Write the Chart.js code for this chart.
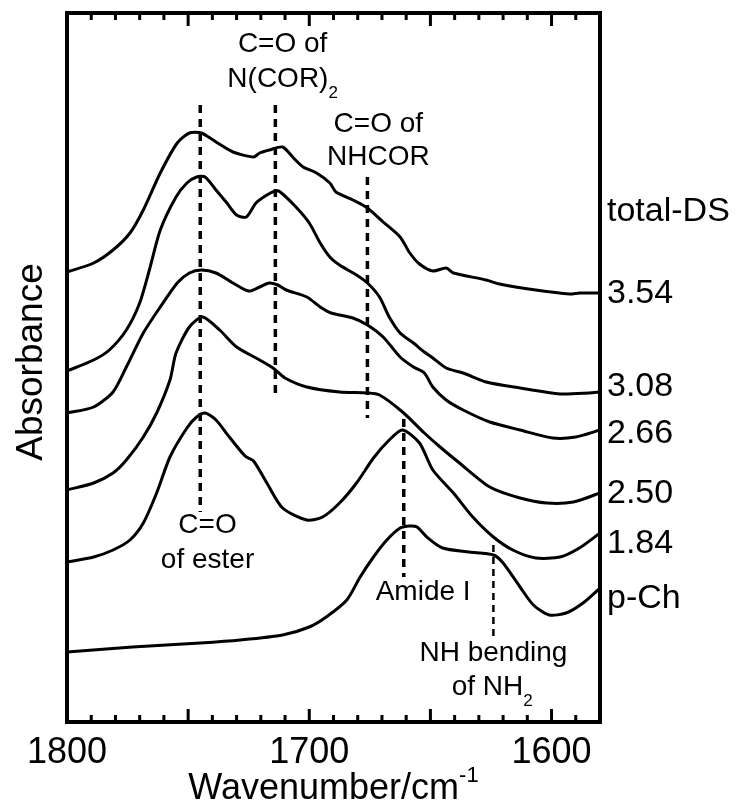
<!DOCTYPE html>
<html>
<head>
<meta charset="utf-8">
<script src="https://cdn.jsdelivr.net/npm/chart.js@4.4.0/dist/chart.umd.min.js"></script>
<style>
  html, body { margin: 0; padding: 0; background: #fff; }
  #wrap { width: 747px; height: 811px; position: relative; }
</style>
</head>
<body>
<div id="wrap"><canvas id="irChart"></canvas></div>
<script>
// FT-IR spectra, wavenumber (cm-1) vs absorbance (a.u., curves offset)
const wn354 = [1800, 1789, 1781, 1774, 1768.5, 1761.5, 1754.5, 1749.5, 1744.5, 1738.5, 1731.5, 1723, 1720.5, 1716.5, 1711, 1706.5, 1702.5, 1697, 1691.5, 1689, 1682, 1676, 1669.5, 1662.5, 1658.5, 1654.5, 1649, 1643.5, 1640.5, 1627, 1621.5, 1606.5, 1592.5, 1588.5, 1580];
const abs354 = [4.50, 4.59, 4.72, 4.89, 5.12, 5.49, 5.79, 5.89, 5.89, 5.80, 5.70, 5.65, 5.69, 5.72, 5.75, 5.64, 5.55, 5.49, 5.39, 5.30, 5.22, 5.14, 5.00, 4.85, 4.69, 4.58, 4.51, 4.54, 4.49, 4.42, 4.38, 4.32, 4.28, 4.29, 4.29];

const wn308 = [1800, 1789, 1782.5, 1775.5, 1770, 1766, 1761.5, 1755, 1750.5, 1746.5, 1743, 1738.5, 1734, 1730, 1726, 1722, 1717.5, 1714, 1712, 1705.5, 1700, 1695.5, 1691.5, 1687.5, 1680.5, 1676, 1671, 1667, 1662.5, 1657, 1652.5, 1649, 1643.5, 1636.5, 1627, 1613, 1596.5, 1584.5, 1580];
const abs308 = [3.51, 3.62, 3.72, 3.92, 4.19, 4.52, 4.92, 5.25, 5.39, 5.45, 5.45, 5.32, 5.19, 5.07, 5.05, 5.19, 5.27, 5.31, 5.30, 5.15, 4.99, 4.79, 4.65, 4.57, 4.47, 4.39, 4.25, 4.05, 3.89, 3.79, 3.70, 3.64, 3.54, 3.49, 3.40, 3.34, 3.28, 3.29, 3.30];

const wn266 = [1800, 1789, 1781, 1775.5, 1768.5, 1761.5, 1754.5, 1749.5, 1744.5, 1738.5, 1731.5, 1725, 1720.5, 1716.5, 1713, 1709.5, 1701, 1695.5, 1691, 1682, 1676, 1669.5, 1662.5, 1657, 1652.5, 1649, 1643.5, 1636.5, 1625.5, 1613, 1599.5, 1590, 1580];
const abs266 = [3.09, 3.15, 3.30, 3.55, 3.89, 4.15, 4.39, 4.49, 4.52, 4.49, 4.39, 4.31, 4.35, 4.39, 4.37, 4.32, 4.25, 4.15, 4.09, 4.04, 3.97, 3.85, 3.65, 3.55, 3.49, 3.35, 3.22, 3.12, 3.00, 2.92, 2.84, 2.85, 2.92];

const wn250 = [1800, 1789, 1781, 1775.5, 1768.5, 1763, 1757.5, 1755, 1749.5, 1744, 1737, 1730, 1720.5, 1715, 1710, 1701, 1687.5, 1676, 1671, 1661.5, 1652.5, 1646, 1638, 1625.5, 1613, 1602, 1591, 1580];
const abs250 = [2.32, 2.39, 2.49, 2.62, 2.85, 3.09, 3.42, 3.69, 3.95, 4.05, 3.92, 3.75, 3.62, 3.54, 3.44, 3.35, 3.30, 3.29, 3.27, 3.10, 2.89, 2.75, 2.59, 2.35, 2.24, 2.19, 2.20, 2.29];

const wn184 = [1800, 1789, 1781, 1774, 1768.5, 1763, 1757.5, 1750.5, 1746.5, 1743, 1738.5, 1733, 1726.5, 1723, 1717.5, 1711, 1701, 1694.5, 1687.5, 1680.5, 1673.5, 1667, 1661.5, 1654.5, 1649, 1640.5, 1632.5, 1624, 1616, 1606.5, 1596.5, 1588.5, 1580];
const abs184 = [1.60, 1.65, 1.72, 1.82, 1.99, 2.29, 2.65, 2.94, 3.05, 3.09, 3.02, 2.85, 2.66, 2.61, 2.39, 2.14, 2.02, 2.05, 2.19, 2.39, 2.64, 2.82, 2.92, 2.79, 2.52, 2.29, 2.05, 1.85, 1.72, 1.64, 1.65, 1.74, 1.89];

const wnPCh = [1800, 1773, 1745, 1728.5, 1711, 1700, 1693, 1684.5, 1679, 1673.5, 1668, 1662.5, 1658.5, 1655.5, 1651.5, 1645, 1634, 1624, 1620, 1613, 1607.5, 1601, 1594, 1587, 1580];
const absPCh = [0.70, 0.75, 0.79, 0.82, 0.87, 0.95, 1.05, 1.22, 1.45, 1.65, 1.82, 1.94, 1.96, 1.95, 1.85, 1.74, 1.70, 1.67, 1.59, 1.35, 1.17, 1.07, 1.09, 1.19, 1.34];

const seriesLabels = ["3.54", "3.08", "2.66", "2.50", "1.84", "p-Ch"];
const labelAbs = [4.19, 3.26, 2.79, 2.19, 1.69, 1.14];
const xTicks = [1800, 1700, 1600];

// band assignment markers (dashed lines)
const bandWn = [1745, 1714, 1676, 1661, 1624];
const bandTop = [6.17, 6.17, 5.45, 3.03, 1.77];
const bandBottom = [2.10, 3.25, 3.04, 1.45, 0.85];

const FONT = 'Arial, "Liberation Sans", Helvetica, sans-serif';

// annotation texts: [wavenumber, absorbance(baseline), parts]
const notes = [
    [1711, 6.70, [["C=O of"]]],
    [1711, 6.35, [["N(COR)"], ["2", "sub"]]],
    [1671.5, 5.90, [["C=O of"]]],
    [1671.5, 5.57, [["NHCOR"]]],
    [1742, 1.89, [["C=O"]]],
    [1742, 1.54, [["of ester"]]],
    [1653, 1.22, [["Amide I"]]],
    [1624, 0.61, [["NH bending"]]],
    [1624.5, 0.27, [["of NH"], ["2", "sub"]]]
];

function toPoints(wn, abs) {
    return wn.map((w, i) => ({ x: w, y: abs[i] }));
}

const spectra = [
    toPoints(wn354, abs354),
    toPoints(wn308, abs308),
    toPoints(wn266, abs266),
    toPoints(wn250, abs250),
    toPoints(wn184, abs184),
    toPoints(wnPCh, absPCh)
];

const datasets = spectra.map((pts, i) => ({
    label: seriesLabels[i],
    data: pts,
    showLine: true,
    borderColor: "#000",
    borderWidth: 3,
    pointRadius: 0,
    tension: 0.25,
    fill: false
}));

bandWn.forEach((w, i) => {
    const thin = i === 4;
    datasets.push({
        label: "band" + w,
        data: [{ x: w, y: bandTop[i] }, { x: w, y: bandBottom[i] }],
        showLine: true,
        borderColor: "#000",
        borderWidth: thin ? 2.5 : 3.5,
        borderDash: thin ? [7, 5] : [8, 6],
        pointRadius: 0,
        tension: 0
    });
});

function drawParts(ctx, parts, cx, y, size) {
    const subSize = Math.round(size * 0.6);
    let total = 0;
    const widths = parts.map(p => {
        ctx.font = (p[1] ? subSize : size) + "px " + FONT;
        const w = ctx.measureText(p[0]).width;
        total += w;
        return w;
    });
    let x = cx - total / 2;
    ctx.textAlign = "left";
    parts.forEach((p, i) => {
        ctx.font = (p[1] ? subSize : size) + "px " + FONT;
        let dy = 0;
        if (p[1] === "sub") dy = size * 0.38;
        if (p[1] === "sup") dy = -size * 0.47;
        ctx.fillText(p[0], x, y + dy);
        x += widths[i];
    });
}

const framePlugin = {
    id: "framePlugin",
    afterDraw(chart) {
        const ctx = chart.ctx;
        const area = chart.chartArea;
        const xs = chart.scales.x;
        const ys = chart.scales.y;
        ctx.save();
        ctx.strokeStyle = "#000";
        ctx.fillStyle = "#000";

        // frame
        ctx.lineWidth = 4;
        ctx.strokeRect(area.left, area.top, area.right - area.left, area.bottom - area.top);

        // inward ticks, minor every 10, major every 50
        ctx.lineWidth = 3;
        for (let v = Math.ceil(xs.min / 10) * 10; v <= xs.max; v += 10) {
            const px = xs.getPixelForValue(v);
            const len = v % 50 === 0 ? 13 : 7;
            ctx.beginPath();
            ctx.moveTo(px, area.bottom);
            ctx.lineTo(px, area.bottom - len);
            ctx.moveTo(px, area.top);
            ctx.lineTo(px, area.top + len);
            ctx.stroke();
        }

        ctx.textBaseline = "alphabetic";

        // peak assignments
        notes.forEach(n => {
            drawParts(ctx, n[2], xs.getPixelForValue(n[0]), ys.getPixelForValue(n[1]), 28);
        });

        // sample labels on the right
        ctx.textAlign = "left";
        ctx.font = "34px " + FONT;
        ctx.fillText("total-DS", area.right + 7, ys.getPixelForValue(5.01));
        seriesLabels.forEach((s, i) => {
            ctx.fillText(s, area.right + 7, ys.getPixelForValue(labelAbs[i]));
        });

        // x title with superscript
        drawParts(ctx, [["Wavenumber/cm"], ["-1", "sup"]], (area.left + area.right) / 2, 799, 36);

        // y title
        ctx.save();
        ctx.translate(42, ys.getPixelForValue(3.6));
        ctx.rotate(-Math.PI / 2);
        ctx.textAlign = "center";
        ctx.font = "37px " + FONT;
        ctx.fillText("Absorbance", 0, 0);
        ctx.restore();

        ctx.restore();
    }
};

new Chart(document.getElementById("irChart"), {
    type: "scatter",
    data: { datasets: datasets },
    options: {
        responsive: true,
        maintainAspectRatio: false,
        animation: false,
        layout: { padding: { left: 67, right: 147, top: 13, bottom: 0 } },
        plugins: {
            legend: { display: false },
            tooltip: { enabled: false }
        },
        scales: {
            x: {
                type: "linear",
                reverse: true,
                min: 1580,
                max: 1800,
                grid: { display: false, drawTicks: false },
                border: { display: false },
                afterBuildTicks: (scale) => {
                    scale.ticks = xTicks.map(v => ({ value: v }));
                },
                afterFit: (scale) => {
                    scale.height = 89;
                },
                ticks: {
                    color: "#000",
                    padding: 9,
                    maxRotation: 0,
                    autoSkip: false,
                    font: { size: 36, family: FONT },
                    callback: (value) => String(value)
                }
            },
            y: {
                display: false,
                min: 0,
                max: 7.09
            }
        }
    },
    plugins: [framePlugin]
});
</script>
</body>
</html>
